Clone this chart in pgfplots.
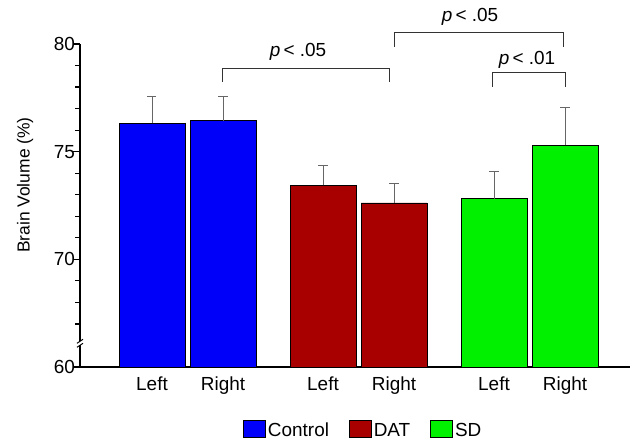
\documentclass[border=0pt]{standalone}
\usepackage{pgfplots}
\pgfplotsset{compat=1.18}
\usepackage{fontspec}
\setmainfont{Liberation Sans}
\definecolor{ctrl}{RGB}{0,0,250}
\definecolor{dat}{RGB}{168,0,0}
\definecolor{sdc}{RGB}{0,240,0}
\begin{document}
\begin{tikzpicture}
\begin{axis}[
  at={(0,0)}, anchor=south west,
  scale only axis, width=550bp, height=323bp,
  xmin=0, xmax=550, ymin=65, ymax=80,
  axis lines*=left,
  axis line style={line width=1.3bp},
  xtick={72,143,243,314,414,485},
  xticklabels={Left,Right,Left,Right,Left,Right},
  x tick style={draw=none},
  xticklabel style={font=\fontsize{19}{22}\selectfont, yshift=-6bp},
  ytick={65,70,75,80}, yticklabels={60,70,75,80},
  y tick style={draw=none},
  yticklabel style={font=\fontsize{19}{22}\selectfont, xshift=-1.5bp},
  ylabel={Brain Volume (\%)},
  ylabel style={font=\fontsize{17.5}{20}\selectfont, at={(axis description cs:-0.1,0.563)}, anchor=center},
  legend columns=3,
  legend style={draw=none, at={(0.515,-0.195)}, anchor=center, font=\fontsize{19}{22}\selectfont,
     /tikz/every even column/.append style={column sep=18bp}},
  legend image code/.code={\draw[#1,/tikz/.cd,draw=black,line width=0.8bp] (0bp,-7bp) rectangle (22bp,10bp);},
]
\addplot[ybar, bar shift=0pt, bar width=66, fill=ctrl, draw=black, line width=0.8bp,
  error bars/.cd, y dir=plus, y explicit, error bar style={gray!80!black, line width=1bp},
  error mark options={rotate=90, mark size=4.5bp, gray!80!black, line width=1bp}]
  coordinates {(72,76.31) +- (0,1.24) (143,76.43) +- (0,1.12)};
\addlegendentry{Control}
\addplot[ybar, bar shift=0pt, bar width=66, fill=dat, draw=black, line width=0.8bp,
  error bars/.cd, y dir=plus, y explicit, error bar style={gray!80!black, line width=1bp},
  error mark options={rotate=90, mark size=4.5bp, gray!80!black, line width=1bp}]
  coordinates {(243,73.44) +- (0,0.90) (314,72.62) +- (0,0.91)};
\addlegendentry{DAT}
\addplot[ybar, bar shift=0pt, bar width=66, fill=sdc, draw=black, line width=0.8bp,
  error bars/.cd, y dir=plus, y explicit, error bar style={gray!80!black, line width=1bp},
  error mark options={rotate=90, mark size=4.5bp, gray!80!black, line width=1bp}]
  coordinates {(414,72.82) +- (0,1.27) (485,75.30) +- (0,1.74)};
\addlegendentry{SD}
\coordinate (b1a) at (axis cs:142.7,78.25);
\coordinate (b1b) at (axis cs:142.7,78.87);
\coordinate (b1c) at (axis cs:309.3,78.87);
\coordinate (b1d) at (axis cs:309.3,78.25);
\coordinate (t1) at (axis cs:218,79.63);
\coordinate (b2a) at (axis cs:314.3,79.87);
\coordinate (b2b) at (axis cs:314.3,80.54);
\coordinate (b2c) at (axis cs:483.3,80.54);
\coordinate (b2d) at (axis cs:483.3,79.87);
\coordinate (t2) at (axis cs:390,81.25);
\coordinate (b3a) at (axis cs:412.7,78.02);
\coordinate (b3b) at (axis cs:412.7,78.69);
\coordinate (b3c) at (axis cs:485.7,78.69);
\coordinate (b3d) at (axis cs:485.7,78.02);
\coordinate (t3) at (axis cs:447,79.26);
\coordinate (brk) at (axis cs:0,66.1);
\end{axis}
\useasboundingbox (-80bp,-74bp) rectangle (557bp,367bp);
% y-axis tick marks (axis box: 323bp for 15 units)
\foreach \v in {65,70,75,80}
  \draw[line width=1.2bp] (0bp,{(\v-65)*21.5333*1bp}) -- ++(-7bp,0);
\foreach \v in {67,68,69,71,72,73,74,76,77,78,79}
  \draw[line width=1.2bp] (0bp,{(\v-65)*21.5333*1bp}) -- ++(-5bp,0);
\begin{scope}[line width=0.9bp, draw=black!80]
\draw (b1a) -- (b1b) -- (b1c) -- (b1d);
\draw (b2a) -- (b2b) -- (b2c) -- (b2d);
\draw (b3a) -- (b3b) -- (b3c) -- (b3d);
\end{scope}
\node[font=\fontsize{19}{22}\selectfont] at (t1) {\textit{p}\,< .05};
\node[font=\fontsize{19}{22}\selectfont] at (t2) {\textit{p}\,< .05};
\node[font=\fontsize{19}{22}\selectfont] at (t3) {\textit{p}\,< .01};
\fill[white] ([xshift=-3bp,yshift=-2bp]brk) rectangle ([xshift=3bp,yshift=2bp]brk);
\draw[line width=1bp] ([xshift=-3bp,yshift=-4bp]brk) -- ([xshift=3bp,yshift=0bp]brk);
\draw[line width=1bp] ([xshift=-3bp,yshift=0bp]brk) -- ([xshift=3bp,yshift=4bp]brk);
\end{tikzpicture}
\end{document}
